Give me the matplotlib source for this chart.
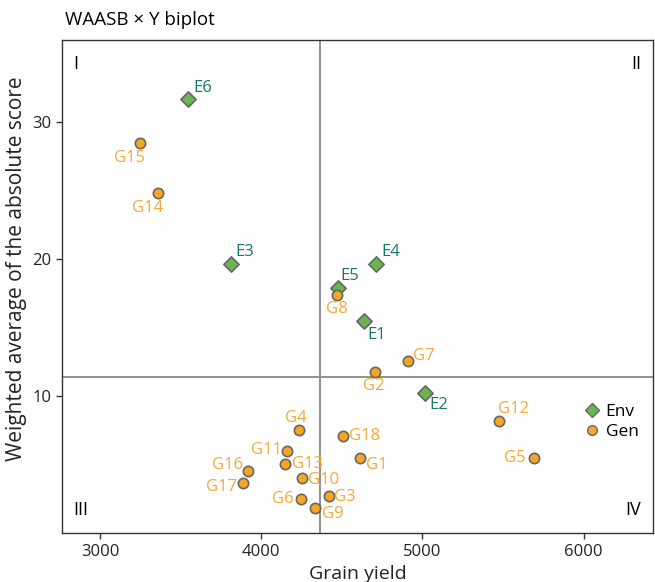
import matplotlib
matplotlib.use("Agg")
import matplotlib.pyplot as plt
from matplotlib.lines import Line2D

plt.rcParams['font.family'] = ['Open Sans', 'DejaVu Sans']

env_names = ["E1", "E2", "E3", "E4", "E5", "E6"]
env_x = [4640, 5014, 3813, 4714, 4476, 3548]
env_y = [15.48, 10.27, 19.64, 19.67, 17.91, 31.7]

gen_names = ["G1", "G2", "G3", "G4", "G5", "G6", "G7", "G8", "G9", "G10",
             "G11", "G12", "G13", "G14", "G15", "G16", "G17", "G18"]
gen_x = [4611, 4706, 4420, 4234, 5690, 4249, 4909, 4470, 4332, 4251,
         4160, 5477, 4148, 3360, 3250, 3920, 3889, 4506]
gen_y = [5.48, 11.74, 2.75, 7.54, 5.46, 2.50, 12.54, 17.38, 1.88, 4.04,
         5.99, 8.16, 5.09, 24.8, 28.46, 4.53, 3.70, 7.08]

mean_x = 4366
mean_y = 11.39

x_ticks = [3000, 4000, 5000, 6000]
y_ticks = [10, 20, 30]

# label offsets in pixels (style only)
env_off = {"E1": (12, -14), "E2": (14, -12), "E3": (14, 12), "E4": (14, 12),
           "E5": (12, 12), "E6": (14, 11)}
gen_off = {"G1": (17, -7), "G2": (-1, -14), "G3": (16, -1), "G4": (-3, 12),
           "G5": (-19, 0), "G6": (-19, 0), "G7": (16, 5), "G8": (0, -14),
           "G9": (18, -6), "G10": (22, -2), "G11": (-21, 1), "G12": (14, 12),
           "G13": (22, 0), "G14": (-11, -15), "G15": (-11, -15), "G16": (-21, 6),
           "G17": (-22, -4), "G18": (22, 0)}

env_fill = "#6ab54f"
gen_fill = "#f5a623"
env_text = "#16776b"
gen_text = "#f5a833"
edge = "#666666"

fig = plt.figure(figsize=(6.55, 5.82), dpi=100)
ax = fig.add_axes([61.7/655, 1-533.3/582, (653.3-61.7)/655, (533.3-40)/582])

ax.axvline(mean_x, color="#888888", lw=1.3, zorder=1)
ax.axhline(mean_y, color="#888888", lw=1.3, zorder=1)

ax.scatter(env_x, env_y, marker="D", s=60, c=env_fill, edgecolors=edge,
           linewidths=1.2, zorder=3)
ax.scatter(gen_x, gen_y, marker="o", s=55, c=gen_fill, edgecolors=edge,
           linewidths=1.2, zorder=3)

for n, x, y in zip(env_names, env_x, env_y):
    dx, dy = env_off[n]
    ax.annotate(n, (x, y), xytext=(dx, dy), textcoords="offset pixels",
                ha="center", va="center", color=env_text, fontsize=12)
for n, x, y in zip(gen_names, gen_x, gen_y):
    dx, dy = gen_off[n]
    ax.annotate(n, (x, y), xytext=(dx, dy), textcoords="offset pixels",
                ha="center", va="center", color=gen_text, fontsize=12)

ax.set_xlim(2762, 6432)
ax.set_ylim(0, 36)
ax.set_xticks(x_ticks)
ax.set_yticks(y_ticks)
ax.tick_params(direction="out", length=4, width=1, labelsize=12, color="#333333",
               labelcolor="#222222")
for s in ax.spines.values():
    s.set_color("#333333")
    s.set_linewidth(1.0)

ax.set_xlabel("Grain yield", fontsize=14, labelpad=4, color="#222222")
ax.set_ylabel("Weighted average of the absolute score", fontsize=15, color="#222222")
ax.yaxis.set_label_coords(-0.058, 0.537)

ax.text(0.02, 0.97, "I", transform=ax.transAxes, ha="left", va="top", fontsize=13)
ax.text(0.98, 0.97, "II", transform=ax.transAxes, ha="right", va="top", fontsize=13)
ax.text(0.02, 0.03, "III", transform=ax.transAxes, ha="left", va="bottom", fontsize=13)
ax.text(0.98, 0.03, "IV", transform=ax.transAxes, ha="right", va="bottom", fontsize=13)

handles = [Line2D([], [], marker="D", ls="none", markersize=7, markerfacecolor=env_fill,
                  markeredgecolor=edge, markeredgewidth=1.0, label="Env"),
           Line2D([], [], marker="o", ls="none", markersize=7, markerfacecolor=gen_fill,
                  markeredgecolor=edge, markeredgewidth=1.0, label="Gen")]
ax.legend(handles=handles, loc="center left", bbox_to_anchor=((583-61.7)/591.6, 1-(422-40)/493.3),
          frameon=False, fontsize=12.5, handlelength=1.0, handletextpad=0.3,
          labelspacing=0.2, borderaxespad=0, borderpad=0)

fig.text(65/655, 1-20/582, "WAASB \u00d7 Y biplot", ha="left", va="center", fontsize=13.5)

fig.savefig("out.png", dpi=100)
